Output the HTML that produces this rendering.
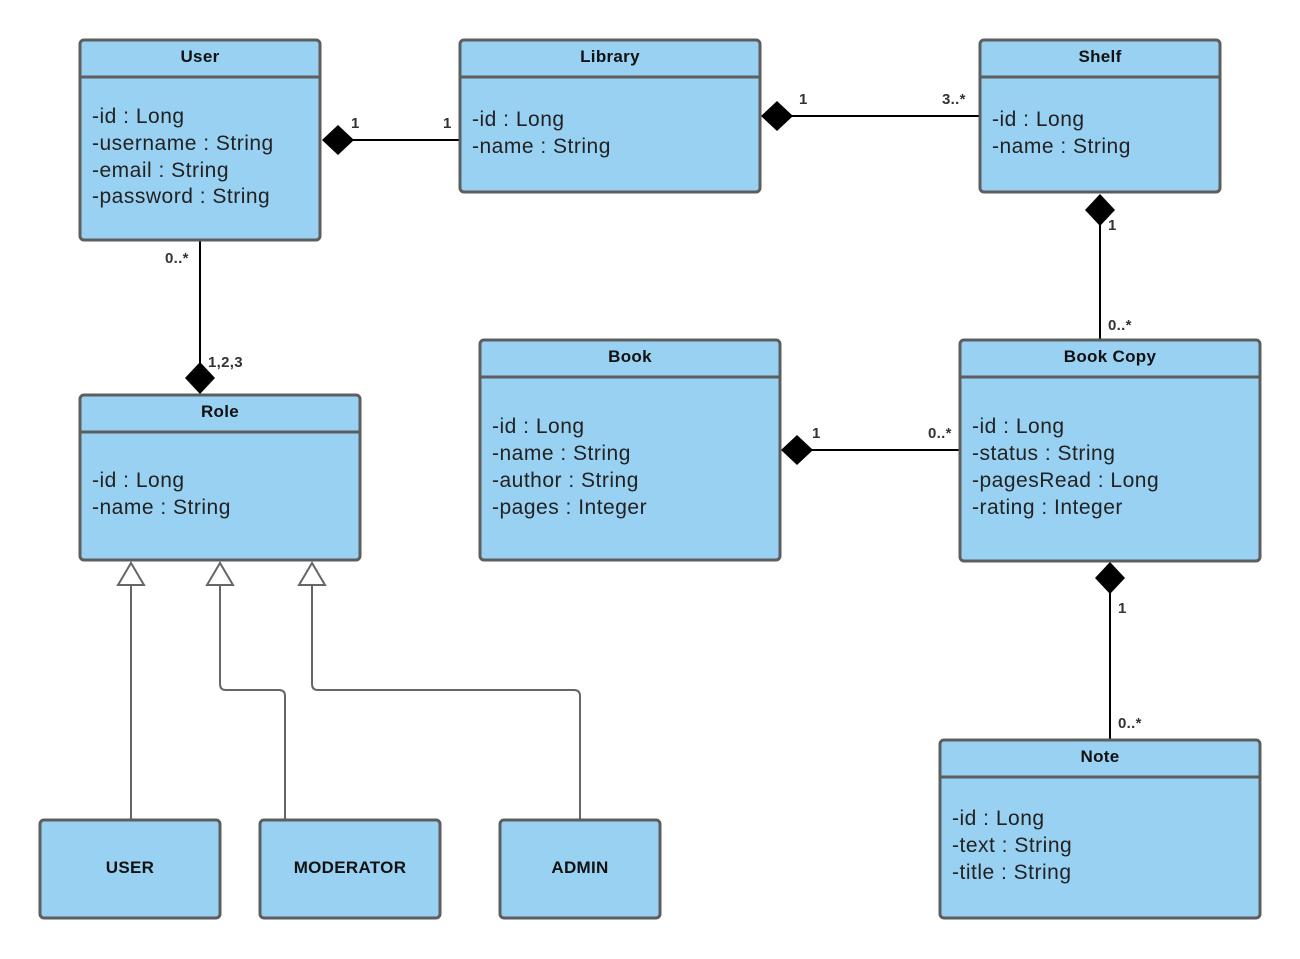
<!DOCTYPE html>
<html><head><meta charset="utf-8"><style>
html,body{margin:0;padding:0;background:#fff;}
svg{display:block;}
text{font-family:"Liberation Sans",Arial,sans-serif;}
.t{font-size:17px;font-weight:bold;fill:#111;text-anchor:middle;letter-spacing:0.3px;}
.a{font-size:21px;fill:#222;letter-spacing:0.5px;}
.l{font-size:15px;font-weight:bold;fill:#333;letter-spacing:0.3px;}
.b{fill:#99d1f3;stroke:#5e5e5e;stroke-width:3;}
.h{stroke:#5e5e5e;stroke-width:3;}
.c{stroke:#000;stroke-width:2;fill:none;}
.g{stroke:#666;stroke-width:2;fill:none;}
</style></head><body>
<svg width="1300" height="959" viewBox="0 0 1300 959" xmlns="http://www.w3.org/2000/svg">
<line class="c" x1="352" y1="140" x2="460" y2="140"/>
<polygon points="322,140 338,125 354,140 338,155" fill="#000"/>
<text class="l" x="351" y="128">1</text><text class="l" x="443" y="128">1</text>

<line class="c" x1="792" y1="116" x2="980" y2="116"/>
<polygon points="761,116 777,101 793,116 777,131" fill="#000"/>
<text class="l" x="799" y="104">1</text><text class="l" x="942" y="104">3..*</text>

<line class="c" x1="1100" y1="225" x2="1100" y2="340"/>
<polygon points="1100,194 1115,210 1100,226 1085,210" fill="#000"/>
<text class="l" x="1108" y="230">1</text><text class="l" x="1108" y="330">0..*</text>

<line class="c" x1="200" y1="240" x2="200" y2="363"/>
<polygon points="200,362 215,378 200,394 185,378" fill="#000"/>
<text class="l" x="165" y="263">0..*</text><text class="l" x="208" y="367">1,2,3</text>

<line class="c" x1="812" y1="450" x2="960" y2="450"/>
<polygon points="781,450 797,435 813,450 797,465" fill="#000"/>
<text class="l" x="812" y="438">1</text><text class="l" x="928" y="438">0..*</text>

<line class="c" x1="1110" y1="593" x2="1110" y2="740"/>
<polygon points="1110,562 1125,578 1110,594 1095,578" fill="#000"/>
<text class="l" x="1118" y="613">1</text><text class="l" x="1118" y="728">0..*</text>

<path class="g" d="M131,585 V820"/>
<path class="g" d="M220,585 V684 Q220,690 226,690 H279 Q285,690 285,696 V820"/>
<path class="g" d="M312,585 V684 Q312,690 318,690 H574 Q580,690 580,696 V820"/>
<polygon class="g" points="131,563 118,585 144,585" fill="#fff"/>
<polygon class="g" points="220,563 207,585 233,585" fill="#fff"/>
<polygon class="g" points="312,563 299,585 325,585" fill="#fff"/>

<rect class="b" x="80" y="40" width="240" height="200" rx="4"/>
<line class="h" x1="80" y1="77" x2="320" y2="77"/>
<text class="t" x="200" y="62">User</text>
<text class="a" x="92" y="123">-id : Long</text>
<text class="a" x="92" y="150">-username : String</text>
<text class="a" x="92" y="177">-email : String</text>
<text class="a" x="92" y="203">-password : String</text>

<rect class="b" x="460" y="40" width="300" height="152" rx="4"/>
<line class="h" x1="460" y1="77" x2="760" y2="77"/>
<text class="t" x="610" y="62">Library</text>
<text class="a" x="472" y="126">-id : Long</text>
<text class="a" x="472" y="153">-name : String</text>

<rect class="b" x="980" y="40" width="240" height="152" rx="4"/>
<line class="h" x1="980" y1="77" x2="1220" y2="77"/>
<text class="t" x="1100" y="62">Shelf</text>
<text class="a" x="992" y="126">-id : Long</text>
<text class="a" x="992" y="153">-name : String</text>

<rect class="b" x="80" y="395" width="280" height="165" rx="4"/>
<line class="h" x1="80" y1="432" x2="360" y2="432"/>
<text class="t" x="220" y="417">Role</text>
<text class="a" x="92" y="487">-id : Long</text>
<text class="a" x="92" y="514">-name : String</text>

<rect class="b" x="480" y="340" width="300" height="220" rx="4"/>
<line class="h" x1="480" y1="377" x2="780" y2="377"/>
<text class="t" x="630" y="362">Book</text>
<text class="a" x="492" y="433">-id : Long</text>
<text class="a" x="492" y="460">-name : String</text>
<text class="a" x="492" y="487">-author : String</text>
<text class="a" x="492" y="514">-pages : Integer</text>

<rect class="b" x="960" y="340" width="300" height="221" rx="4"/>
<line class="h" x1="960" y1="377" x2="1260" y2="377"/>
<text class="t" x="1110" y="362">Book Copy</text>
<text class="a" x="972" y="433">-id : Long</text>
<text class="a" x="972" y="460">-status : String</text>
<text class="a" x="972" y="487">-pagesRead : Long</text>
<text class="a" x="972" y="514">-rating : Integer</text>

<rect class="b" x="940" y="740" width="320" height="178" rx="4"/>
<line class="h" x1="940" y1="777" x2="1260" y2="777"/>
<text class="t" x="1100" y="762">Note</text>
<text class="a" x="952" y="825">-id : Long</text>
<text class="a" x="952" y="852">-text : String</text>
<text class="a" x="952" y="879">-title : String</text>

<rect class="b" x="40" y="820" width="180" height="98" rx="4"/>
<text class="t" x="130" y="873">USER</text>
<rect class="b" x="260" y="820" width="180" height="98" rx="4"/>
<text class="t" x="350" y="873">MODERATOR</text>
<rect class="b" x="500" y="820" width="160" height="98" rx="4"/>
<text class="t" x="580" y="873">ADMIN</text>
</svg>
</body></html>
